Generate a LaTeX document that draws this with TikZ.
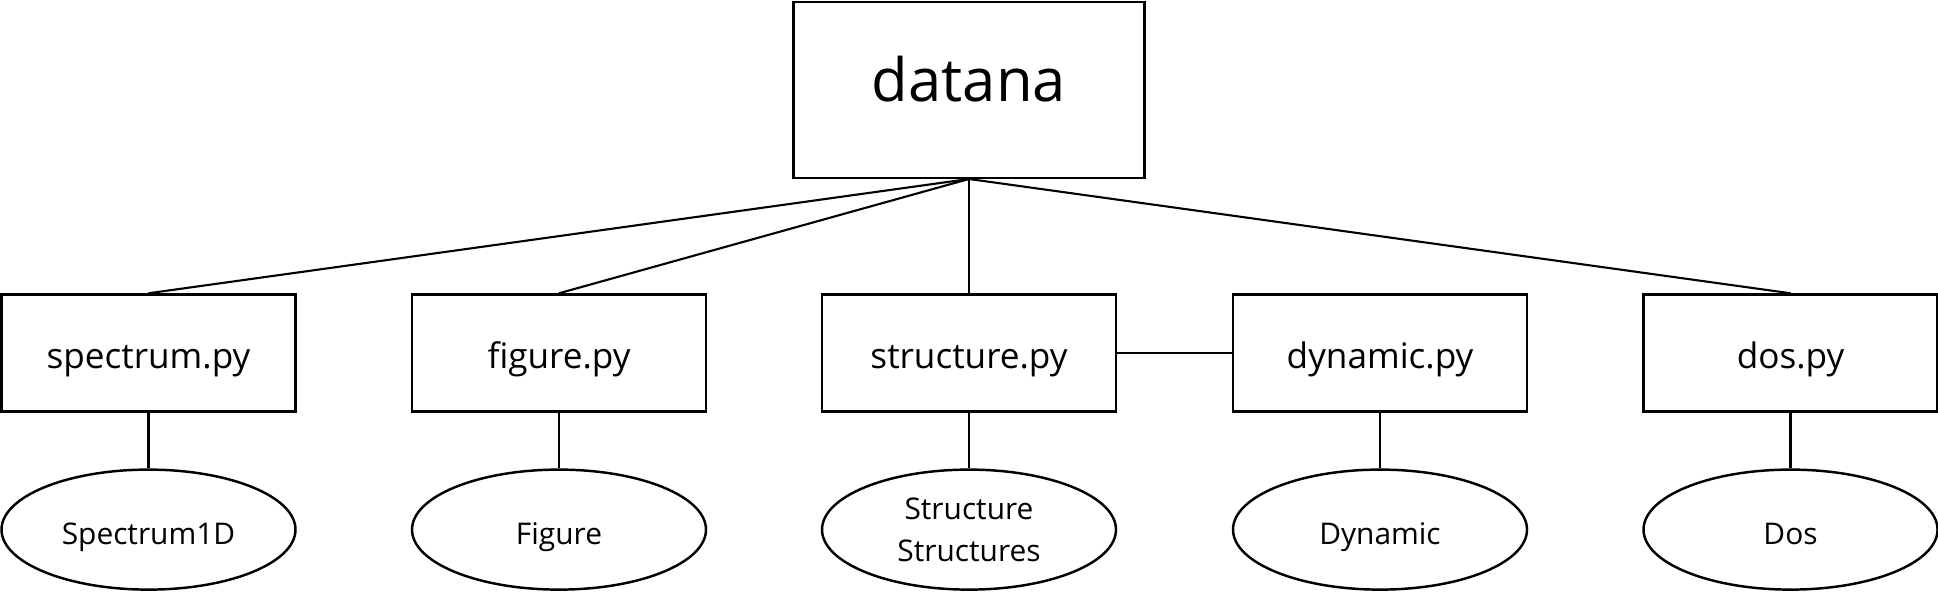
\documentclass[tikz,border=0pt]{standalone}
\usepackage{fontspec}
\setmainfont{Open Sans}
\usetikzlibrary{shapes.geometric}

\begin{document}
\begin{tikzpicture}
[-,line width=0.6pt,%
  modbox/.style={shape=rectangle,draw,line width=0.7pt,minimum width=2.94cm,minimum height=1.17cm,inner sep=0pt,text height=1.1em,text depth=0.24em,font=\fontsize{10}{12}\selectfont},%
  clsnode/.style={shape=ellipse,draw,line width=0.7pt,minimum width=2.94cm,minimum height=1.2cm,inner sep=0pt,align=center,text height=1.05em,text depth=0.2em,font=\fontsize{8.5}{12}\selectfont}]
\useasboundingbox (0,0) rectangle (19.38,5.91);
\node[modbox,minimum width=3.51cm,minimum height=1.755cm,text height=0.9em,font=\fontsize{17}{20}\selectfont] (datana) at (9.69,5.01) {datana};
%%
\node[modbox] (spectrum) at (1.485,2.38) {spectrum.py};
\node[modbox] (figure) at (5.59,2.38) {figure.py};
\node[modbox] (structure) at (9.69,2.38) {structure.py};
\node[modbox] (dynamic) at (13.80,2.38) {dynamic.py};
\node[modbox] (dos) at (17.905,2.38) {dos.py};
%%
\node[clsnode] (Spectrum1D) at (1.485,0.614) {Spectrum1D};
\node[clsnode] (Figure) at (5.59,0.614) {Figure};
\node[clsnode,text height={},text depth=-1pt] (Structure) at (9.69,0.614) {Structure\\Structures};
\node[clsnode] (Dynamic) at (13.80,0.614) {Dynamic};
\node[clsnode] (Dos) at (17.905,0.614) {Dos};
%%
\path
\foreach \startNode/\endNode in {datana/spectrum, datana/figure, datana/structure, datana/dos}
{
  (\startNode.south) edge (\endNode.north)
};
\path
\foreach \startNode/\endNode in {spectrum/Spectrum1D, figure/Figure, structure/Structure, dynamic/Dynamic, dos/Dos}
{
  (\startNode) edge (\endNode)
};
\draw (structure) -- (dynamic);
\end{tikzpicture}
\end{document}
